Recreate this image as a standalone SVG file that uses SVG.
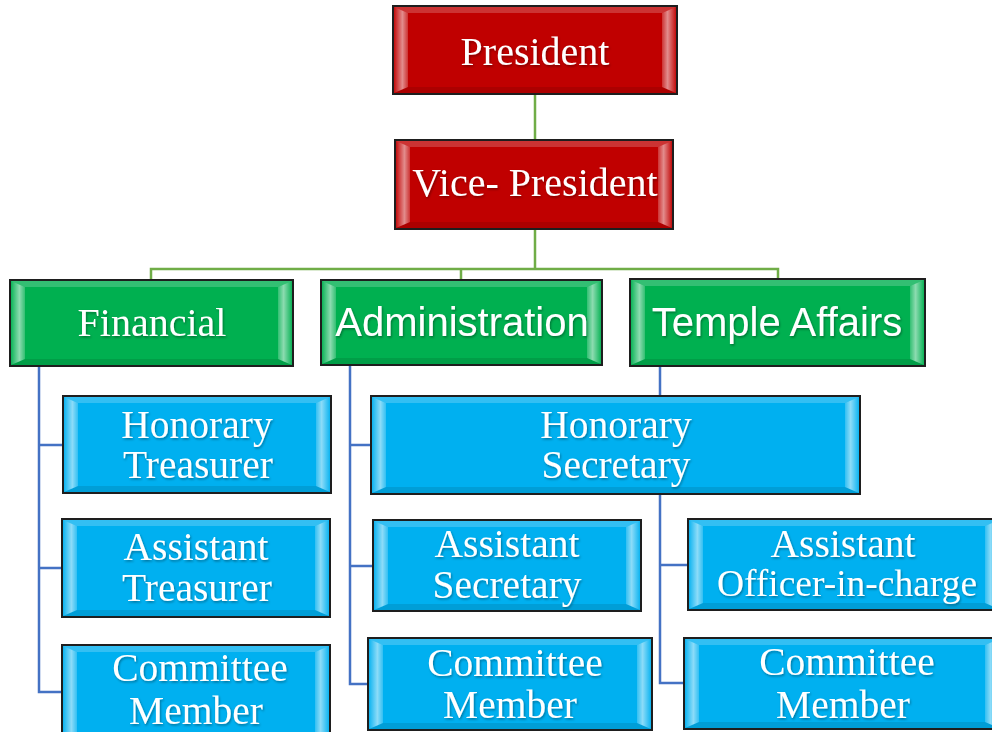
<svg xmlns="http://www.w3.org/2000/svg" width="992" height="732" viewBox="0 0 992 732">
<style>
.box{stroke:#1e1e1e;stroke-width:2}
.red{fill:#C00000}
.green{fill:#00B050}
.blue{fill:#00B0F0}
.topb{fill:#fff;fill-opacity:.2}
.botb{fill:#000;fill-opacity:.1}
.t{fill:#fff;text-anchor:middle;filter:url(#ts)}
.serif{font-family:"Liberation Serif","Times New Roman",serif}
.sans{font-family:"Liberation Sans",Arial,sans-serif}
.f40{font-size:40px}
.f38{font-size:39.5px}
.cg{fill:none;stroke:#70AD47;stroke-width:2.5}
.cb{fill:none;stroke:#4472C4;stroke-width:2.5}
</style>
<defs>
<filter id="ts" x="-10%" y="-20%" width="120%" height="140%"><feDropShadow dx="1" dy="1.5" stdDeviation="1" flood-color="#000" flood-opacity=".35"/></filter>
<linearGradient id="lr" x1="0" y1="0" x2="1" y2="0"><stop offset="0" stop-color="#fff" stop-opacity=".05"/><stop offset=".6" stop-color="#fff" stop-opacity=".55"/><stop offset="1" stop-color="#fff" stop-opacity=".2"/></linearGradient>
<linearGradient id="rl" x1="1" y1="0" x2="0" y2="0"><stop offset="0" stop-color="#fff" stop-opacity=".05"/><stop offset=".6" stop-color="#fff" stop-opacity=".55"/><stop offset="1" stop-color="#fff" stop-opacity=".2"/></linearGradient>
</defs>
<g id="connectors">
<path class="cg" d="M535 94V140M535 229V269M151 280V269H778V279M461 269V280"/>
<path class="cb" d="M39 366V692H62M39 445H63M39 568H62"/>
<path class="cb" d="M350 365V684H368M350 445H371M350 566H373"/>
<path class="cb" d="M660 366V683H684M660 565H688"/>
</g>
<g id="president">
<rect class="box red" x="393" y="6" width="284" height="88"/>
<path class="topb" d="M394 7H676L662 13H408Z"/><path class="botb" d="M394 93H676L662 87H408Z"/>
<path fill="url(#lr)" d="M394 7L408 13V87L394 93Z"/><path fill="url(#rl)" d="M676 7L662 13V87L676 93Z"/>
<text class="t serif f40" x="535" y="65">President</text>
</g>
<g id="vice-president">
<rect class="box red" x="395" y="140" width="278" height="89"/>
<path class="topb" d="M396 141H672L658 147H410Z"/><path class="botb" d="M396 228H672L658 222H410Z"/>
<path fill="url(#lr)" d="M396 141L410 147V222L396 228Z"/><path fill="url(#rl)" d="M672 141L658 147V222L672 228Z"/>
<text class="t serif f40" x="535" y="196">Vice- President</text>
</g>
<g id="financial">
<rect class="box green" x="10" y="280" width="283" height="86"/>
<path class="topb" d="M11 281H292L278 287H25Z"/><path class="botb" d="M11 365H292L278 359H25Z"/>
<path fill="url(#lr)" d="M11 281L25 287V359L11 365Z"/><path fill="url(#rl)" d="M292 281L278 287V359L292 365Z"/>
<text class="t serif f40" x="152" y="336">Financial</text>
</g>
<g id="administration">
<rect class="box green" x="321" y="280" width="281" height="85"/>
<path class="topb" d="M322 281H601L587 287H336Z"/><path class="botb" d="M322 364H601L587 358H336Z"/>
<path fill="url(#lr)" d="M322 281L336 287V358L322 364Z"/><path fill="url(#rl)" d="M601 281L587 287V358L601 364Z"/>
<text class="t sans f40" x="462" y="336">Administration</text>
</g>
<g id="temple-affairs">
<rect class="box green" x="630" y="279" width="295" height="87"/>
<path class="topb" d="M631 280H924L910 286H645Z"/><path class="botb" d="M631 365H924L910 359H645Z"/>
<path fill="url(#lr)" d="M631 280L645 286V359L631 365Z"/><path fill="url(#rl)" d="M924 280L910 286V359L924 365Z"/>
<text class="t sans f40" x="777" y="336">Temple Affairs</text>
</g>
<g id="honorary-treasurer">
<rect class="box blue" x="63" y="396" width="268" height="97"/>
<path class="topb" d="M64 397H330L316 403H78Z"/><path class="botb" d="M64 492H330L316 486H78Z"/>
<path fill="url(#lr)" d="M64 397L78 403V486L64 492Z"/><path fill="url(#rl)" d="M330 397L316 403V486L330 492Z"/>
<text class="t serif f38" x="197" y="438">Honorary</text>
<text class="t serif f38" x="198" y="478">Treasurer</text>
</g>
<g id="assistant-treasurer">
<rect class="box blue" x="62" y="519" width="268" height="98"/>
<path class="topb" d="M63 520H329L315 526H77Z"/><path class="botb" d="M63 616H329L315 610H77Z"/>
<path fill="url(#lr)" d="M63 520L77 526V610L63 616Z"/><path fill="url(#rl)" d="M329 520L315 526V610L329 616Z"/>
<text class="t serif f38" x="196" y="560">Assistant</text>
<text class="t serif f38" x="197" y="601">Treasurer</text>
</g>
<g id="committee-member-financial">
<rect class="box blue" x="62" y="645" width="268" height="96"/>
<path class="topb" d="M63 646H329L315 652H77Z"/>
<path fill="url(#lr)" d="M63 646L77 652V740H63Z"/><path fill="url(#rl)" d="M329 646L315 652V740H329Z"/>
<text class="t serif f38" x="200" y="681">Committee</text>
<text class="t serif f38" x="196" y="724">Member</text>
</g>
<g id="honorary-secretary">
<rect class="box blue" x="371" y="396" width="489" height="98"/>
<path class="topb" d="M372 397H859L845 403H386Z"/><path class="botb" d="M372 493H859L845 487H386Z"/>
<path fill="url(#lr)" d="M372 397L386 403V487L372 493Z"/><path fill="url(#rl)" d="M859 397L845 403V487L859 493Z"/>
<text class="t serif f38" x="616" y="438">Honorary</text>
<text class="t serif f38" x="616" y="478">Secretary</text>
</g>
<g id="assistant-secretary">
<rect class="box blue" x="373" y="520" width="268" height="91"/>
<path class="topb" d="M374 521H640L626 527H388Z"/><path class="botb" d="M374 610H640L626 604H388Z"/>
<path fill="url(#lr)" d="M374 521L388 527V604L374 610Z"/><path fill="url(#rl)" d="M640 521L626 527V604L640 610Z"/>
<text class="t serif f38" x="507" y="557">Assistant</text>
<text class="t serif f38" x="507" y="598">Secretary</text>
</g>
<g id="committee-member-administration">
<rect class="box blue" x="368" y="638" width="284" height="92"/>
<path class="topb" d="M369 639H651L637 645H383Z"/><path class="botb" d="M369 729H651L637 723H383Z"/>
<path fill="url(#lr)" d="M369 639L383 645V723L369 729Z"/><path fill="url(#rl)" d="M651 639L637 645V723L651 729Z"/>
<text class="t serif f38" x="515" y="676">Committee</text>
<text class="t serif f38" x="510" y="718">Member</text>
</g>
<g id="assistant-officer-in-charge">
<rect class="box blue" x="688" y="519" width="312" height="91"/>
<path class="topb" d="M689 520H999L985 526H703Z"/><path class="botb" d="M689 609H999L985 603H703Z"/>
<path fill="url(#lr)" d="M689 520L703 526V603L689 609Z"/><path fill="url(#rl)" d="M999 520L985 526V603L999 609Z"/>
<text class="t serif f38" x="843" y="557">Assistant</text>
<text class="t serif" font-size="37.5" x="847" y="596">Officer-in-charge</text>
</g>
<g id="committee-member-temple">
<rect class="box blue" x="684" y="638" width="316" height="91"/>
<path class="topb" d="M685 639H999L985 645H699Z"/><path class="botb" d="M685 728H999L985 722H699Z"/>
<path fill="url(#lr)" d="M685 639L699 645V722L685 728Z"/><path fill="url(#rl)" d="M999 639L985 645V722L999 728Z"/>
<text class="t serif f38" x="847" y="675">Committee</text>
<text class="t serif f38" x="843" y="718">Member</text>
</g>
</svg>
